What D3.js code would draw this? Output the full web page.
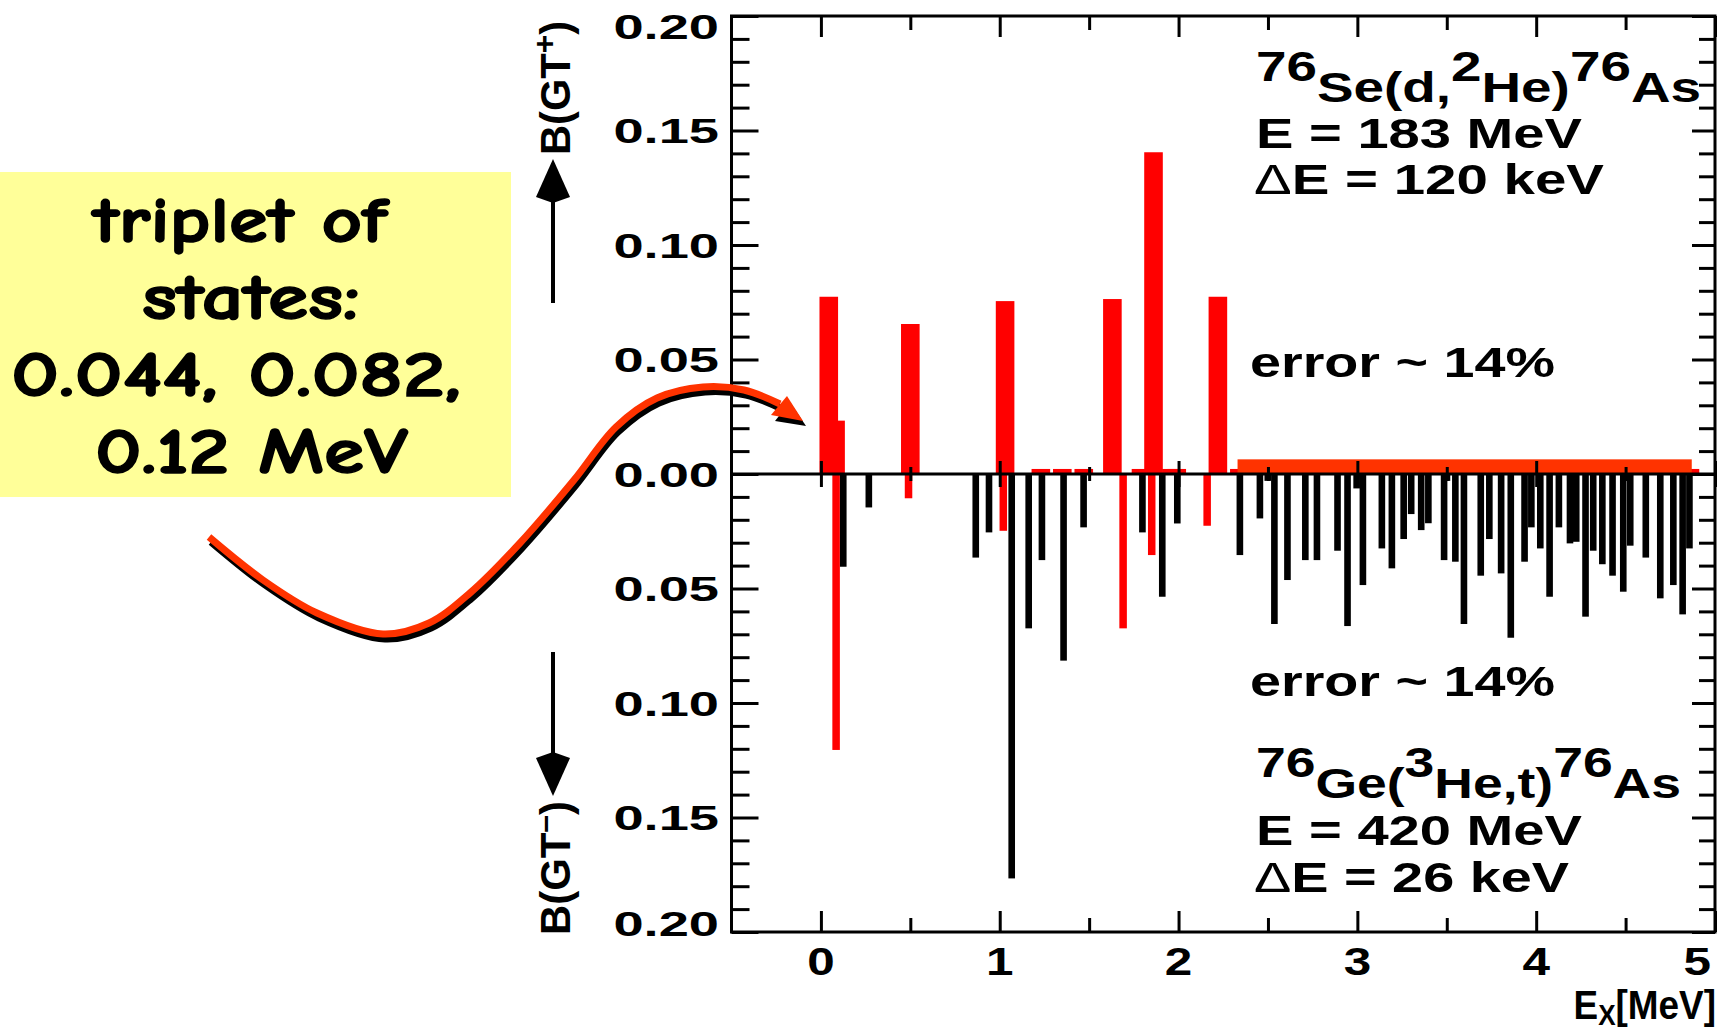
<!DOCTYPE html>
<html>
<head>
<meta charset="utf-8">
<script src="https://cdn.jsdelivr.net/npm/d3@7/dist/d3.min.js"></script>
<style>
  body { margin: 0; background: #fff; }
  svg { display: block; }
</style>
</head>
<body>
<div id="container"></div>
<script>
"use strict";

// ---- data ----
// upper half: 76Se(d,2He) -> B(GT+), bar centre [MeV] and strength
const gtPlusE = [0.082, 0.044, 0.50, 1.03, 1.23, 1.35, 1.47, 1.63, 1.79, 1.86, 1.96, 1.99, 2.22, 2.34, 4.86];
const gtPlusB = [0.0233, 0.0774, 0.0655, 0.0755, 0.0022, 0.0022, 0.0022, 0.0764, 0.0022, 0.1405, 0.0022, 0.0022, 0.0774, 0.0022, 0.0022];
// unresolved strength band above 2.3 MeV
const bandE = [2.33, 4.87];
const bandB = 0.0064;

// lower half, red: (d,2He) states mirrored down
const redMinusE = [0.085, 0.49, 1.02, 1.69, 1.85, 2.16];
const redMinusB = [0.1205, 0.0106, 0.0248, 0.0674, 0.0354, 0.0226];

// lower half, black: 76Ge(3He,t) -> B(GT-)
const gtMinusE = [0.125, 0.268, 0.866, 0.940, 1.067, 1.162, 1.236, 1.357, 1.469, 1.798,
  1.909, 1.993, 2.343, 2.455, 2.499, 2.536, 2.609, 2.709, 2.774, 2.889,
  2.945, 2.996, 3.031, 3.137, 3.193, 3.259, 3.301, 3.357, 3.397, 3.485,
  3.501, 3.548, 3.596, 3.690, 3.738, 3.804, 3.858, 3.935, 3.973, 4.023,
  4.075, 4.127, 4.189, 4.224, 4.276, 4.319, 4.370, 4.427, 4.487, 4.526,
  4.613, 4.694, 4.767, 4.819, 4.857];
const gtMinusB = [0.0405, 0.0146, 0.0365, 0.0255, 0.1766, 0.0674, 0.0376, 0.0815, 0.0233, 0.0255,
  0.0536, 0.0216, 0.0354, 0.0194, 0.003, 0.0655, 0.0463, 0.0376, 0.0376, 0.0335,
  0.0664, 0.0063, 0.0485, 0.0325, 0.0412, 0.0284, 0.0175, 0.0245, 0.0215, 0.0376,
  0.003, 0.0383, 0.0655, 0.0444, 0.0284, 0.0434, 0.0715, 0.0383, 0.0233, 0.0325,
  0.0536, 0.0233, 0.0303, 0.0296, 0.0623, 0.0335, 0.0394, 0.0444, 0.0514, 0.0313,
  0.0365, 0.0543, 0.0485, 0.0613, 0.0325];

// axis ticks
const xMajor = [0, 1, 2, 3, 4, 5];
const xMinor = [0.5, 1.5, 2.5, 3.5, 4.5];
const yMajor = [-0.2, -0.15, -0.1, -0.05, 0, 0.05, 0.1, 0.15, 0.2];
const yMinor = d3.range(-19, 20).filter(i => i % 5 !== 0).map(i => i / 100);

// box text
const noteLines = ["triplet of", "states:", "0.044, 0.082,", "0.12 MeV"];

// ---- style ----
const FONT = "'Liberation Sans', Arial, Helvetica, sans-serif";
const RED = "#ff0000";
const ORANGE = "#ff3300";
const PLUS_W = 0.104;   // bar widths in MeV
const RED_W = 0.042;
const BLACK_W = 0.037;

const svg = d3.select("#container").append("svg")
	.attr("width", 1728)
	.attr("height", 1033);

const x = d3.scaleLinear().domain([-0.5, 5]).range([731.5, 1715]);
const y = d3.scaleLinear().domain([-0.2, 0.2]).range([932, 16]);

// ---- bars ----
const plusBars = d3.zip(gtPlusE, gtPlusB).sort((a, b) => a[1] - b[1]);
svg.append("g")
	.selectAll("rect")
	.data(plusBars)
	.join("rect")
	.attr("x", d => x(d[0] - PLUS_W / 2))
	.attr("width", x(PLUS_W) - x(0))
	.attr("y", d => y(d[1]))
	.attr("height", d => y(0) - y(d[1]))
	.attr("fill", RED);

svg.append("rect")
	.attr("x", x(bandE[0]))
	.attr("width", x(bandE[1]) - x(bandE[0]))
	.attr("y", y(bandB))
	.attr("height", y(0) - y(bandB))
	.attr("fill", ORANGE);

svg.append("g")
	.selectAll("rect")
	.data(d3.zip(redMinusE, redMinusB))
	.join("rect")
	.attr("x", d => x(d[0] - RED_W / 2))
	.attr("width", x(RED_W) - x(0))
	.attr("y", y(0))
	.attr("height", d => y(-d[1]) - y(0))
	.attr("fill", RED);

svg.append("g")
	.selectAll("rect")
	.data(d3.zip(gtMinusE, gtMinusB))
	.join("rect")
	.attr("x", d => x(d[0] - BLACK_W / 2))
	.attr("width", x(BLACK_W) - x(0))
	.attr("y", y(0))
	.attr("height", d => y(-d[1]) - y(0))
	.attr("fill", "#000");

// ---- frame, zero line, ticks ----
function tickSet(axisFn, scale, values, size, transform) {
	const g = svg.append("g")
		.attr("transform", transform)
		.call(axisFn(scale).tickValues(values).tickSize(size).tickFormat(""));
	g.select(".domain").remove();
	g.selectAll("line").attr("stroke", "#000").attr("stroke-width", 3);
}

tickSet(d3.axisRight, y, yMajor, 27, `translate(${x(-0.5)},0)`);
tickSet(d3.axisRight, y, yMinor, 18, `translate(${x(-0.5)},0)`);
tickSet(d3.axisLeft, y, yMajor, 23, `translate(${x(5)},0)`);
tickSet(d3.axisLeft, y, yMinor, 16, `translate(${x(5)},0)`);
tickSet(d3.axisBottom, x, xMajor, 21, `translate(0,${y(0.2)})`);
tickSet(d3.axisBottom, x, xMinor, 14, `translate(0,${y(0.2)})`);
tickSet(d3.axisTop, x, xMajor, 21, `translate(0,${y(-0.2)})`);
tickSet(d3.axisTop, x, xMinor, 14, `translate(0,${y(-0.2)})`);
tickSet(d3.axisTop, x, xMajor, 13, `translate(0,${y(0)})`);
tickSet(d3.axisBottom, x, xMajor, 13, `translate(0,${y(0)})`);
tickSet(d3.axisTop, x, xMinor, 7, `translate(0,${y(0)})`);
tickSet(d3.axisBottom, x, xMinor, 7, `translate(0,${y(0)})`);

svg.append("line")
	.attr("x1", x(-0.5)).attr("x2", x(5))
	.attr("y1", y(0)).attr("y2", y(0))
	.attr("stroke", "#000").attr("stroke-width", 3);

svg.append("rect")
	.attr("x", x(-0.5)).attr("y", y(0.2))
	.attr("width", x(5) - x(-0.5)).attr("height", y(-0.2) - y(0.2))
	.attr("fill", "none").attr("stroke", "#000").attr("stroke-width", 3);

// ---- tick labels (ROOT output is stretched horizontally) ----
function stretchedText(px, py, sx, size, anchor) {
	return svg.append("text")
		.attr("transform", `translate(${px},${py}) scale(${sx},1)`)
		.attr("font-family", FONT)
		.attr("font-weight", "bold")
		.attr("font-size", size)
		.attr("text-anchor", anchor)
		.attr("fill", "#000");
}

yMajor.forEach(v => {
	const py = Math.min(Math.max(y(v), 26), 923);
	stretchedText(719, py + 12.5, 1.55, 35, "end").text(Math.abs(v).toFixed(2));
});

xMajor.forEach((v, i) => {
	const last = i === xMajor.length - 1;
	stretchedText(last ? x(v) - 4 : x(v), 975, 1.3, 38, last ? "end" : "middle").text(v);
});

// x title
const xt = stretchedText(1716, 1019, 0.9, 41, "end");
xt.append("tspan").text("E");
xt.append("tspan").attr("font-size", 29).attr("dy", 6).text("X");
xt.append("tspan").attr("dy", -6).text("[MeV]");

// y titles with arrows
function yTitle(px, py, sup) {
	const t = svg.append("text")
		.attr("transform", `translate(${px},${py}) rotate(-90)`)
		.attr("font-family", FONT)
		.attr("font-weight", "bold")
		.attr("font-size", 42)
		.attr("textLength", 134)
		.attr("lengthAdjust", "spacingAndGlyphs")
		.attr("fill", "#000");
	t.append("tspan").text("B(GT");
	t.append("tspan").attr("font-size", 32).attr("dy", -15).text(sup);
	t.append("tspan").attr("dy", 15).text(")");
}
yTitle(570, 155, "+");
yTitle(570, 935, "\u2013");

function arrow(xc, y0, y1) {
	const dir = Math.sign(y1 - y0);
	const base = y1 - dir * 38;
	svg.append("line")
		.attr("x1", xc).attr("x2", xc)
		.attr("y1", y0).attr("y2", base)
		.attr("stroke", "#000").attr("stroke-width", 4);
	svg.append("path")
		.attr("d", `M${xc - 17},${base}L${xc},${y1}L${xc + 17},${base}L${xc},${base - dir * 6}Z`)
		.attr("fill", "#000");
}
arrow(553, 303, 159);
arrow(553, 652, 796);

// ---- reaction labels ----
function newText(px, py, width) {
	return svg.append("text")
		.attr("x", px).attr("y", py)
		.attr("font-family", FONT)
		.attr("font-weight", "bold")
		.attr("font-size", 42)
		.attr("textLength", width)
		.attr("lengthAdjust", "spacingAndGlyphs")
		.attr("fill", "#000");
}
function reaction(px, py, parts, width) {
	const t = newText(px, py, width);
	let up = false;
	parts.forEach(p => {
		const s = t.append("tspan").text(p.text);
		if (p.sup && !up) { s.attr("dy", -21); up = true; }
		else if (!p.sup && up) { s.attr("dy", 21); up = false; }
	});
}
function plain(px, py, str, width) {
	newText(px, py, width).text(str);
}
function delta(px, py, str, width) {
	const t = newText(px, py, width);
	t.append("tspan").attr("font-weight", "normal").text("\u0394");
	t.append("tspan").text(str);
}

reaction(1256, 101.5, [
	{ text: "76", sup: true }, { text: "Se(d," }, { text: "2", sup: true },
	{ text: "He)" }, { text: "76", sup: true }, { text: "As" }], 445);
plain(1256, 148, "E = 183 MeV", 326);
delta(1254, 194, "E = 120 keV", 350);
plain(1250, 377, "error ~ 14%", 305);

plain(1250, 696, "error ~ 14%", 305);
reaction(1256, 798, [
	{ text: "76", sup: true }, { text: "Ge(" }, { text: "3", sup: true },
	{ text: "He,t)" }, { text: "76", sup: true }, { text: "As" }], 425);
plain(1256, 844.5, "E = 420 MeV", 326);
delta(1254, 892, "E = 26 keV", 315);

// ---- annotation box ----
svg.append("rect")
	.attr("x", 0).attr("y", 172)
	.attr("width", 511).attr("height", 325)
	.attr("fill", "#ffff99");

const noteX = [240, 251, 236, 251.5];
const noteY = [242, 319, 396, 473];
const noteW = [294, 218, 450, 313];
noteLines.forEach((s, i) => {
	svg.append("text")
		.attr("x", noteX[i]).attr("y", noteY[i])
		.attr("text-anchor", "middle")
		.attr("font-family", "'Comic Sans MS', 'Comic Neue', 'DejaVu Sans', sans-serif")
		.attr("font-weight", "bold")
		.attr("font-size", 64)
		.attr("textLength", noteW[i])
		.attr("lengthAdjust", "spacingAndGlyphs")
		.attr("fill", "#000")
		.attr("stroke", "#000")
		.attr("stroke-width", 1.5)
		.text(s);
});

// curved arrow pointing at the triplet
const curvePts = [[209, 537], [263, 580], [317, 613], [383, 634], [429, 623], [470, 593],
	[520, 543], [574, 480], [616, 427], [657, 398], [703, 387], [744, 390], [780, 404]];
const curve = d3.line().curve(d3.curveCatmullRom);
svg.append("path")
	.attr("d", curve(curvePts.map(p => [p[0] + 2, p[1] + 5])))
	.attr("fill", "none").attr("stroke", "#000").attr("stroke-width", 7);
svg.append("path")
	.attr("d", "M775,421 L790,402 L806,426 Z")
	.attr("fill", "#000");
svg.append("path")
	.attr("d", curve(curvePts))
	.attr("fill", "none").attr("stroke", ORANGE).attr("stroke-width", 7);
svg.append("path")
	.attr("d", "M771,415 L787,396 L803,421 Z")
	.attr("fill", ORANGE);
</script>
</body>
</html>
